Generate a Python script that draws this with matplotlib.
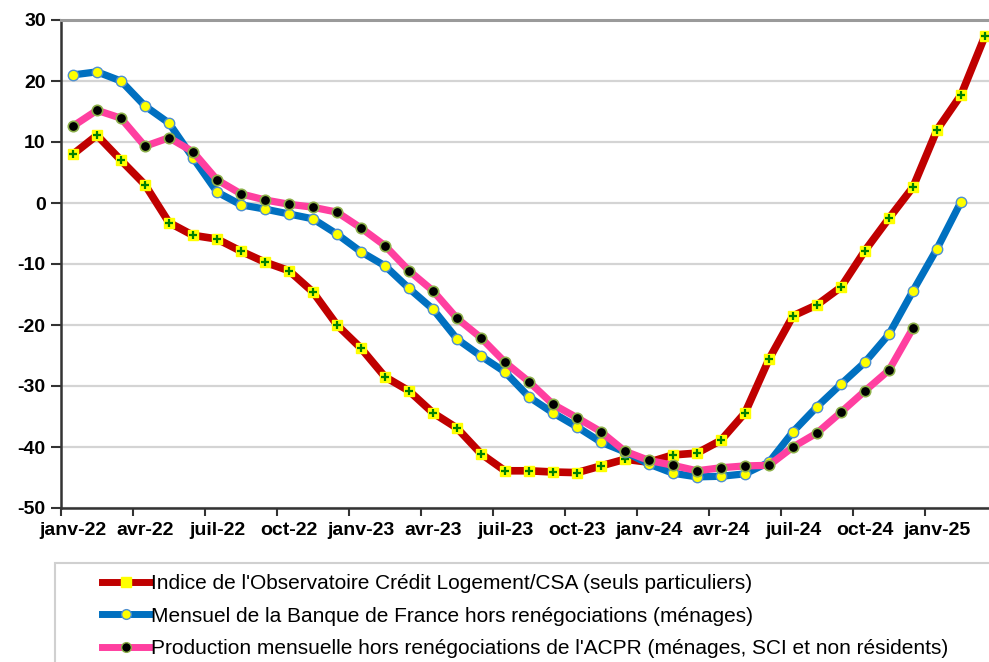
import numpy as np
import matplotlib
matplotlib.use("Agg")
import matplotlib.pyplot as plt
from matplotlib.lines import Line2D
from matplotlib.patches import Rectangle

plt.rcParams['font.family'] = ['Liberation Sans', 'DejaVu Sans']
plt.rcParams['axes.unicode_minus'] = False

# ---------------- data (monthly, janv-22 .. mars-25) ----------------
months = ["janv-22", "févr-22", "mars-22", "avr-22", "mai-22", "juin-22",
          "juil-22", "août-22", "sept-22", "oct-22", "nov-22", "déc-22",
          "janv-23", "févr-23", "mars-23", "avr-23", "mai-23", "juin-23",
          "juil-23", "août-23", "sept-23", "oct-23", "nov-23", "déc-23",
          "janv-24", "févr-24", "mars-24", "avr-24", "mai-24", "juin-24",
          "juil-24", "août-24", "sept-24", "oct-24", "nov-24", "déc-24",
          "janv-25", "févr-25", "mars-25"]

credit_logement = [8.0, 11.1, 7.0, 3.0, -3.2, -5.3, -5.9, -7.9, -9.7, -11.1,
                   -14.6, -20.0, -23.8, -28.5, -30.8, -34.4, -36.9, -41.1,
                   -43.9, -43.9, -44.1, -44.2, -43.1, -42.0, -42.5, -41.3,
                   -41.0, -38.9, -34.4, -25.6, -18.5, -16.7, -13.8, -7.8,
                   -2.5, 2.6, 12.0, 17.7, 27.4]

banque_france = [21.0, 21.5, 20.0, 15.9, 13.1, 7.4, 1.8, -0.3, -1.0, -1.8,
                 -2.6, -5.1, -8.0, -10.3, -14.0, -17.4, -22.3, -25.1, -27.7,
                 -31.8, -34.4, -36.7, -39.2, -40.8, -42.8, -44.3, -44.9,
                 -44.8, -44.4, -42.5, -37.5, -33.4, -29.7, -26.1, -21.5,
                 -14.4, -7.5, 0.2]

acpr = [12.6, 15.2, 13.9, 9.3, 10.7, 8.4, 3.8, 1.5, 0.5, -0.2, -0.7, -1.5,
        -4.1, -7.0, -11.1, -14.4, -18.9, -22.1, -26.1, -29.3, -33.0, -35.2,
        -37.5, -40.7, -42.2, -43.0, -43.9, -43.4, -43.1, -43.0, -40.0,
        -37.7, -34.3, -30.8, -27.4, -20.5]

labels = ["Indice de l'Observatoire Crédit Logement/CSA (seuls particuliers)",
          "Mensuel de la Banque de France hors renégociations (ménages)",
          "Production mensuelle hors renégociations de l'ACPR (ménages, SCI et non résidents)"]

# ---------------- figure ----------------
W, H = 989, 662
fig = plt.figure(figsize=(W / 100, H / 100), dpi=100)
fig.patch.set_facecolor('white')
# plot area runs slightly past the right edge, like the original
ax = fig.add_axes([61 / W, 154 / H, 936 / W, 488 / H])

red, blue, pink = '#c00000', '#0070c0', '#ff3fa0'

x_red = np.arange(len(credit_logement))
x_blue = np.arange(len(banque_france))
x_pink = np.arange(len(acpr))

ax.plot(x_red, credit_logement, color=red, lw=5.5, solid_capstyle='round',
        marker='s', ms=7, mfc='#ffff00', mec='#ffff00', zorder=3)
ax.plot(x_red, credit_logement, ls='none', marker='+', ms=6, mew=1.6,
        color='#008000', zorder=3.1)
ax.plot(x_blue, banque_france, color=blue, lw=5.2, solid_capstyle='round',
        marker='o', ms=7.5, mfc='#ffff00', mec='#4f8fcf', mew=1.0, zorder=4)
ax.plot(x_pink, acpr, color=pink, lw=5.2, solid_capstyle='round',
        marker='o', ms=7.5, mfc='black', mec='#8db04a', mew=1.2, zorder=5)

ax.set_xlim(-0.5, len(months) - 0.5)
ax.set_ylim(-50, 30)
ax.set_yticks(np.arange(-50, 31, 10))
ax.yaxis.grid(True, color='#d4d4d4', lw=1.6)
ax.set_axisbelow(True)

# category axis: ticks between months, labels every quarter
ax.set_xticks(np.arange(0, len(months), 3))
ax.set_xticklabels([months[i] for i in range(0, len(months), 3)])
ax.set_xticks(np.arange(0, len(months), 3) - 0.5, minor=True)
ax.tick_params(axis='x', which='major', length=0, pad=10)
ax.tick_params(axis='x', which='minor', length=6, width=1.5, color='#333333')
ax.tick_params(axis='y', length=7, width=1.5, color='#333333', pad=4)
for t in ax.get_xticklabels() + ax.get_yticklabels():
    t.set_fontweight('bold')
    t.set_fontsize(14)

for s in ['left', 'bottom']:
    ax.spines[s].set_color('#333333')
    ax.spines[s].set_linewidth(1.8)
ax.spines['top'].set_color('#9a9a9a')
ax.spines['top'].set_linewidth(2.2)
ax.spines['right'].set_visible(False)

# legend box
fig.patches.append(Rectangle((55 / W, -0.05), 1.0, (662 - 563) / H + 0.05,
                             transform=fig.transFigure, fill=False,
                             edgecolor='#d0d0d0', lw=1.5))
handles = [
    Line2D([], [], color=red, lw=5, marker='s', ms=7, mfc='#ffff00', mec='#ffff00'),
    Line2D([], [], color=blue, lw=5, marker='o', ms=7, mfc='#ffff00', mec='#4f8fcf'),
    Line2D([], [], color=pink, lw=5, marker='o', ms=7, mfc='black', mec='#8db04a'),
]
fig.legend(handles, labels, loc='upper left', bbox_to_anchor=(92 / W, 1 - 564 / H),
           frameon=False, fontsize=15, handlelength=2.3, handletextpad=0.05,
           labelspacing=0.64, borderpad=0, numpoints=1)

fig.savefig('out.png', dpi=100)
